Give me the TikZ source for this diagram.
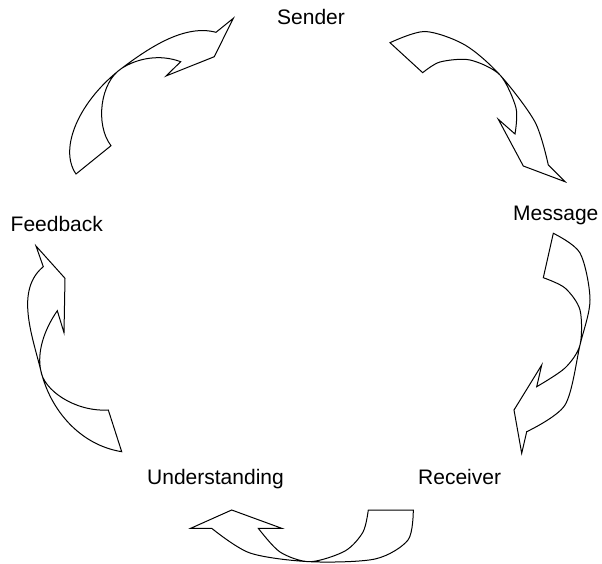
\documentclass[tikz,border=0pt]{standalone}
\usepackage{fontspec}
\setmainfont{Liberation Sans}
\begin{document}
\begin{tikzpicture}[x=1pt,y=-1pt,
  twist/.style={draw=black, line width=1pt, line join=miter, fill=white},
  lbl/.style={anchor=base west, inner sep=0pt, font=\fontsize{21}{25}\selectfont}]
\useasboundingbox (0,0) rectangle (602,564);
% labels
\node[lbl] (sender) at (277,25) {Sender};
\node[lbl] (message) at (513,221) {Message};
\node[lbl] (feedback) at (10.5,231.7) {Feedback};
\node[lbl] (understanding) at (147,484) {Understanding};
\node[lbl] (receiver) at (418,484) {Receiver};
% arrow 1: Feedback -> Sender
\draw[twist] (76,174) .. controls (58,148) and (80,100) .. (121.7,68.3)
  .. controls (150,47) and (185,24) .. (216,32.3)
  -- (233.3,18.3) -- (214.3,56.7) -- (166,76) -- (180.7,61.7)
  .. controls (160,54) and (138,58) .. (121.7,68.3)
  .. controls (100,82) and (95,125) .. (111,145.7)
  -- cycle;
% arrow 2: Sender -> Message
\draw[twist] plot[smooth] coordinates {(390,42.7) (425,31.5) (465,45) (500,75) (535,122) (548.3,165)}
  -- (565,181.7) -- (523.3,166) -- (498.3,119.3) -- (515,134)
  -- plot[smooth] coordinates {(515,134) (516,108) (500,75) (470,60) (440,62) (422.7,72.7)}
  -- cycle;
% arrow 3: Message -> Receiver
\draw[twist] plot[smooth] coordinates {(553.3,233.3) (580,253) (590,300) (580,345) (565,405) (526.7,431.7)}
  -- (521.7,453.3) -- (514,410) -- (541.7,365) -- (536.7,386.7)
  -- plot[smooth] coordinates {(536.7,386.7) (565,368) (580,345) (580,310) (565,288) (543.3,277.7)}
  -- cycle;
% arrow 4: Understanding -> Feedback
\draw[twist] (121.7,451.7) .. controls (80,445) and (50,410) .. (40.7,370)
  .. controls (32,335) and (15,290) .. (43.3,266.7)
  -- (36,246) -- (65,278.3) -- (64,332.7) -- (57.3,310.7)
  .. controls (44,330) and (37,352) .. (40.7,370)
  .. controls (43,390) and (75,412) .. (108.3,410)
  -- cycle;
% arrow 5: Receiver -> Understanding
\draw[twist] plot[smooth] coordinates {(413.3,510) (408,540) (375,559) (310,561.7) (250,553) (211.7,528.3)}
  -- (190.7,528.3) -- (231.7,510) -- (281.7,528.3) -- (258.3,528.3)
  -- plot[smooth] coordinates {(258.3,528.3) (280,552) (310,561.7) (345,551) (363,532) (368.3,510)}
  -- cycle;
\end{tikzpicture}
\end{document}
